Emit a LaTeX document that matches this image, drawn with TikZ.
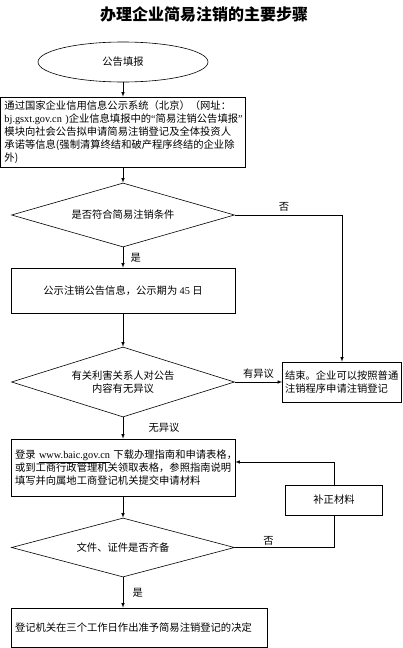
\documentclass[tikz,border=0pt]{standalone}
\usepackage{fontspec}
\setmainfont{Noto Sans CJK SC}
\newfontfamily\lat{Liberation Serif}
\tikzset{>=latex}
\usetikzlibrary{shapes.geometric}

\begin{document}
\begin{tikzpicture}[x=1pt,y=-1pt,line width=0.6pt,
  txt/.style={font=\fontsize{10.3}{13}\selectfont},
  box/.style={draw,txt,inner xsep=4pt,inner ysep=0pt},
  ask/.style={draw,txt,diamond,aspect=3.5,inner sep=0pt,minimum width=223pt,align=center}]
  \useasboundingbox[fill=white] (0,0) rectangle (403,648);
  \node[font=\bfseries\fontsize{16}{16}\selectfont] (title) at (204,14) {办理企业简易注销的主要步骤};
  \node[draw,ellipse,txt,minimum width=170pt,minimum height=40pt] (start) at (123,62) {公告填报};
  \node[box,text width=237pt,align=left,minimum height=70pt] (b1) at (123,132)
    {通过国家企业信用信息公示系统（北京）（网址：\\{\lat bj.gsxt.gov.cn~)}企业信息填报中的{\lat“}简易注销公告填报{\lat”}\\模块向社会公告拟申请简易注销登记及全体投资人\\承诺等信息(强制清算终结和破产程序终结的企业除\\外)};
  \node[ask,minimum height=64pt] (d1) at (123,215) {是否符合简易注销条件};
  \node[box,minimum width=224pt,minimum height=45pt] (b2) at (123,290.5) {公示注销公告信息，公示期为 {\lat 45} 日};
  \node[ask,minimum height=70pt] (d2) at (123,382) {有关利害关系人对公告\\内容有无异议};
  \node[box,text width=114pt,inner xsep=2.5pt,align=left,minimum height=40pt] (endb) at (342,382) {结束。企业可以按照普通\\注销程序申请注销登记};
  \node[box,text width=216pt,align=left,minimum height=57pt] (b3) at (123,467.5)
    {登录~{\lat\underline{www.baic.gov.cn}}~下载办理指南和申请表格，\\或到工商行政管理机关领取表格，参照指南说明\\填写并向属地工商登记机关提交申请材料};
  \node[ask,minimum height=59pt] (d3) at (123,547.5) {文件、证件是否齐备};
  \node[box,fill=white,minimum width=97pt,minimum height=30pt] (bz) at (334,500) {补正材料};
  \node[box,text width=248pt,align=left,minimum height=39pt] (b4) at (139,627.5) {登记机关在三个工作日作出准予简易注销登记的决定};

  \draw[->] (start) -- (b1);
  \draw[->] (b1) -- (d1);
  \draw[->] (d1.east) -| (endb.north) node[txt,pos=0.23,above] (no1) {否};
  \draw[->] (d1) -- (b2) node[txt,midway,right=4pt] (yes1) {是};
  \draw[->] (b2) -- (d2);
  \draw[->] (d2.east) -- (endb.west) node[txt,midway,above] (obj) {有异议};
  \draw[->] (d2) -- (b3) node[txt,midway,right=22pt] (noobj) {无异议};
  \draw[->] (b3) -- (d3);
  \draw (d3.east) -| (bz.south) node[txt,pos=0.17,above=-1pt] (no2) {否};
  \draw[->] (bz.north) |- ([yshift=5.5pt]b3.east);
  \draw[->] (d3.south) -- (d3.south |- b4.north) node[txt,midway,right=6pt] (yes2) {是};
\end{tikzpicture}
\end{document}
